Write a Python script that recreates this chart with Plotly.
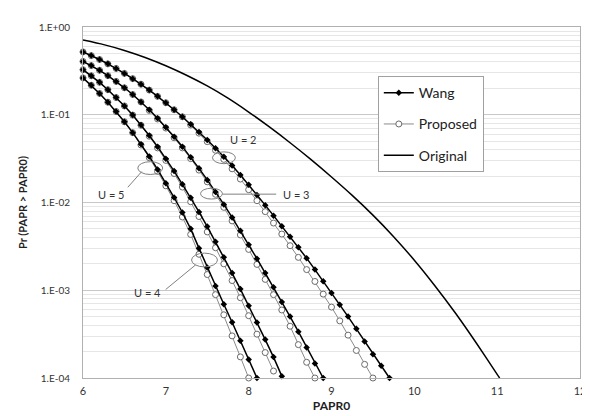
import plotly.graph_objects as go

# ---- data ----
PAPR0 = [6.0, 6.1, 6.2, 6.3, 6.4, 6.5, 6.6, 6.7, 6.8, 6.9, 7.0, 7.1, 7.2, 7.3, 7.4,
         7.5, 7.6, 7.7, 7.8, 7.9, 8.0, 8.1, 8.2, 8.3, 8.4, 8.5, 8.6, 8.7, 8.8, 8.9,
         9.0, 9.1, 9.2, 9.3, 9.4, 9.5, 9.6, 9.7]

wang_u2 = [0.520, 0.472, 0.426, 0.380, 0.337, 0.296, 0.258, 0.223, 0.191, 0.162,
           0.137, 0.114, 0.0948, 0.0780, 0.0637, 0.0516, 0.0416, 0.0333, 0.0264, 0.0206,
           0.0159, 0.0122, 0.00933, 0.00708, 0.00537, 0.00407, 0.00309, 0.00232, 0.00172, 0.00127,
           0.000933, 0.000684, 0.000501, 0.000363, 0.000260, 0.000186, 0.000138, 0.000100]
prop_u2 = [0.520, 0.472, 0.426, 0.380, 0.337, 0.296, 0.258, 0.223, 0.191, 0.162,
           0.137, 0.114, 0.0948, 0.0764, 0.0617, 0.0494, 0.0394, 0.0310, 0.0242, 0.0185,
           0.0140, 0.0105, 0.00787, 0.00583, 0.00437, 0.00322, 0.00237, 0.00172, 0.00126, 0.000904,
           0.000643, 0.000448, 0.000308, 0.000206, 0.000143, 0.000100]
wang_u3 = [0.405, 0.363, 0.321, 0.279, 0.240, 0.203, 0.170, 0.140, 0.114, 0.0912,
           0.0721, 0.0562, 0.0433, 0.0328, 0.0245, 0.0181, 0.0132, 0.00951, 0.00676, 0.00476,
           0.00331, 0.00229, 0.00157, 0.00108, 0.000736, 0.000501, 0.000337, 0.000223, 0.000146, 0.000100]
prop_u3 = [0.405, 0.363, 0.321, 0.279, 0.240, 0.203, 0.170, 0.140, 0.112, 0.0895,
           0.0705, 0.0547, 0.0419, 0.0316, 0.0234, 0.0172, 0.0124, 0.00881, 0.00617, 0.00427,
           0.00292, 0.00197, 0.00133, 0.000891, 0.000596, 0.000389, 0.000240, 0.000151, 0.000100]
wang_u4 = [0.326, 0.278, 0.234, 0.193, 0.157, 0.126, 0.0991, 0.0766, 0.0581, 0.0433,
           0.0316, 0.0228, 0.0161, 0.0113, 0.00780, 0.00531, 0.00357, 0.00238, 0.00157, 0.00103,
           0.000668, 0.000430, 0.000274, 0.000173, 0.000105]
prop_u4 = [0.326, 0.278, 0.234, 0.193, 0.157, 0.126, 0.0991, 0.0759, 0.0569, 0.0419,
           0.0302, 0.0214, 0.0150, 0.0102, 0.00692, 0.00462, 0.00305, 0.00200, 0.00129, 0.000822,
           0.000513, 0.000316, 0.000195, 0.000120]
wang_u5 = [0.263, 0.217, 0.175, 0.139, 0.109, 0.0832, 0.0625, 0.0461, 0.0334, 0.0238,
           0.0166, 0.0114, 0.00769, 0.00501, 0.00302, 0.00182, 0.00112, 0.000692, 0.000432, 0.000266,
           0.000162, 0.000100]
prop_u5 = [0.263, 0.217, 0.175, 0.139, 0.109, 0.0832, 0.0625, 0.0452, 0.0324, 0.0226,
           0.0155, 0.0105, 0.00684, 0.00432, 0.00257, 0.00151, 0.000891, 0.000525, 0.000302, 0.000174,
           0.000100]

orig_x = [6.0, 6.25, 6.5, 6.75, 7.0, 7.25, 7.5, 7.75, 8.0, 8.25, 8.5, 8.75, 9.0,
          9.25, 9.5, 9.75, 10.0, 10.25, 10.5, 10.75, 11.0, 11.03]
orig_y = [0.710, 0.630, 0.541, 0.450, 0.362, 0.282, 0.213, 0.1545, 0.1074, 0.0726, 0.0480,
          0.0310, 0.01954, 0.01205, 0.00718, 0.00408, 0.00220, 0.00112, 0.000543, 0.000249,
          0.000110, 0.000100]

y_tickvals = [1e-4, 1e-3, 1e-2, 1e-1, 1]
y_ticktext = ["1.E-04", "1.E-03", "1.E-02", "1.E-01", "1.E+00"]
x_tickvals = [6, 7, 8, 9, 10, 11, 12]

FONT = "Lato, 'Open Sans', sans-serif"

fig = go.Figure()

# Proposed (drawn first, underneath)
prop_sets = [prop_u2, prop_u3, prop_u4, prop_u5]
for i, ys in enumerate(prop_sets):
    fig.add_trace(go.Scatter(
        x=PAPR0[:len(ys)], y=ys, mode="lines+markers", name="Proposed",
        legendgroup="prop", showlegend=(i == 0), legendrank=2,
        line=dict(color="#8a8a8a", width=1),
        marker=dict(symbol="circle", size=6, color="white",
                    line=dict(color="#6a6a6a", width=1)),
        cliponaxis=False))

# Wang
wang_sets = [wang_u2, wang_u3, wang_u4, wang_u5]
for i, ys in enumerate(wang_sets):
    fig.add_trace(go.Scatter(
        x=PAPR0[:len(ys)], y=ys, mode="lines+markers", name="Wang",
        legendgroup="wang", showlegend=(i == 0), legendrank=1,
        line=dict(color="black", width=1.5),
        marker=dict(symbol="diamond", size=5, color="black"),
        cliponaxis=False))

# Original
fig.add_trace(go.Scatter(
    x=orig_x, y=orig_y, mode="lines", name="Original",
    legendgroup="orig", legendrank=3,
    line=dict(color="black", width=1.5, shape="spline", smoothing=0.6)))

# ---- annotation helpers (pixel -> paper) ----
L, R, T, B = 75, 574, 13, 370
def px(x):
    return (x - L) / (R - L)
def py(y):
    return (B - y) / (B - T)

shapes = []
annos = []
grey = "#808080"

def ellipse(x0, y0, x1, y1):
    shapes.append(dict(type="circle", xref="paper", yref="paper",
                       x0=px(x0), x1=px(x1), y0=py(y1), y1=py(y0),
                       line=dict(color=grey, width=1)))

def seg(x0, y0, x1, y1):
    shapes.append(dict(type="line", xref="paper", yref="paper",
                       x0=px(x0), x1=px(x1), y0=py(y0), y1=py(y1),
                       line=dict(color=grey, width=1)))

def label(text, x, y):
    annos.append(dict(text=text, xref="paper", yref="paper", x=px(x), y=py(y),
                      showarrow=False, xanchor="center", yanchor="middle",
                      font=dict(family=FONT, size=11, color="#333333")))

ellipse(205, 140, 228, 152)
label("U = 2", 236, 127)

ellipse(193, 177, 215, 188)
seg(215, 183, 269, 183)
label("U = 3", 289, 183)

ellipse(130, 150, 155, 163)
seg(120, 176, 134, 160)
label("U = 5", 103, 183)

ellipse(184, 243, 210, 257)
seg(158, 280, 188, 255)
label("U = 4", 140, 283)

fig.update_layout(
    width=590, height=416,
    margin=dict(l=L, r=590 - R, t=T, b=416 - B),
    paper_bgcolor="white", plot_bgcolor="white",
    font=dict(family=FONT, color="#333333"),
    showlegend=True,
    legend=dict(x=px(371), y=py(63), xanchor="left", yanchor="top",
                bgcolor="white", bordercolor="#a0a0a0", borderwidth=1,
                font=dict(family=FONT, size=14, color="#222222"),
                traceorder="grouped", tracegroupgap=10, itemwidth=30),
    shapes=shapes, annotations=annos,
)

fig.update_xaxes(range=[6, 12], tickvals=x_tickvals, showgrid=False,
                 showline=True, linecolor="#b0b0b0", linewidth=1, mirror=True,
                 ticks="", ticklabelstandoff=3, zeroline=False,
                 ticklabeloverflow="allow",
                 tickfont=dict(family=FONT, size=11, color="#333333"),
                 title=dict(text="<b>PAPR0</b>", standoff=5,
                            font=dict(family=FONT, size=12, color="#222222")))

fig.update_yaxes(type="log", range=[-4, 0], tickvals=y_tickvals, ticktext=y_ticktext,
                 showgrid=True, gridcolor="#c8c8c8", gridwidth=1,
                 minor=dict(showgrid=True, gridcolor="#e6e6e6", gridwidth=1,
                            dtick="D1"),
                 showline=True, linecolor="#b0b0b0", linewidth=1, mirror=True,
                 ticks="", ticklabelstandoff=10, zeroline=False,
                 tickfont=dict(family=FONT, size=10, color="#333333"),
                 title=dict(text="<b>Pr (PAPR &gt; PAPR0)</b>", standoff=8,
                            font=dict(family=FONT, size=11, color="#222222")))

fig.write_html("out.html")
